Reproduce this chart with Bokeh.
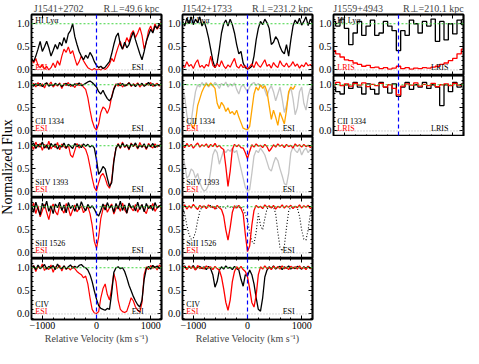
import numpy as np
from bokeh.plotting import figure
from bokeh.layouts import row, column
from bokeh.models import Range1d, LinearAxis, FixedTicker, PrintfTickFormatter, Span, Label
from bokeh.embed import file_html
from bokeh.resources import INLINE

# ------------------------------------------------------------------ data
VEL_START = -1200
ESI_STEP = 40
LRIS_STEP = 80

sightlines = ["J1541+2702", "J1542+1733", "J1559+4943"]
r_perp = ["49.6", "231.2", "210.1"]
ion_names = ["HI Lyα", "CII 1334", "SiIV 1393", "SiII 1526", "CIV"]
instruments = ["ESI", "ESI", "LRIS"]
x_ticks = [-1000, 0, 1000]
x_minor = [-1200, -800, -600, -400, -200, 200, 400, 600, 800, 1200]
y_ticks = [0.0, 0.5, 1.0]
y_minor = [-0.1, 0.1, 0.2, 0.3, 0.4, 0.6, 0.7, 0.8, 0.9, 1.1]

# J1541+2702 (ESI, 40 km/s pixels from -1200)
j1541_hi_black = [0.25, 0.18, 0.30, 0.45, 0.62, 0.40, 0.50, 0.62, 0.48, 0.30,
                  0.42, 0.55, 0.45, 0.60, 0.52, 0.70, 0.58, 0.78, 0.85, 1.00,
                  0.72, 0.55, 0.40, 0.30, 0.22, 0.32, 0.25, 0.38, 0.30, 0.18,
                  0.10, 0.05, 0.08, 0.03, 0.06, 0.12, 0.18, 0.35, 0.55, 0.72,
                  0.80, 0.55, 0.45, 0.60, 0.48, 0.55, 0.70, 0.82, 0.65, 0.50,
                  0.35, 0.22, 0.40, 0.62, 0.75, 0.88, 0.80, 0.95, 0.90, 1.00,
                  0.92]
j1541_hi_red = [0.22, 0.15, 0.25, 0.10, 0.05, 0.12, 0.02, 0.08, 0.00, 0.05,
                0.15, 0.05, 0.20, 0.10, 0.30, 0.45, 0.38, 0.50, 0.35, 0.42,
                0.25, 0.10, 0.18, 0.30, 0.20, 0.12, 0.05, 0.02, 0.00, 0.03,
                0.00, 0.02, 0.00, 0.04, 0.01, 0.05, 0.12, 0.25, 0.18, 0.35,
                0.50, 0.62, 0.45, 0.55, 0.70, 0.60, 0.78, 0.85, 0.70, 0.80,
                0.92, 0.75, 0.45, 0.60, 0.85, 0.95, 0.82, 1.00, 0.88, 0.95,
                1.05]
j1541_cii_black = [1.00, 0.97, 1.02, 0.98, 1.03, 0.96, 1.01, 1.04, 0.97, 1.00,
                   0.98, 1.03, 0.99, 1.02, 0.96, 1.00, 1.03, 0.98, 1.01, 0.97,
                   1.02, 0.99, 1.04, 0.98, 1.00, 1.03, 1.06, 1.08, 1.05, 1.00,
                   0.95, 0.85, 0.80, 0.88, 0.78, 0.70, 0.65, 0.72, 0.90, 1.00,
                   1.02, 0.98, 1.03, 0.97, 1.00, 1.04, 0.98, 1.01, 0.96, 1.02,
                   0.99, 1.03, 0.97, 1.00, 1.05, 0.98, 1.02, 0.97, 1.01, 0.99,
                   1.03]
j1541_cii_red = [0.98, 1.03, 0.95, 1.05, 0.97, 1.02, 0.93, 1.04, 0.99, 1.06,
                 0.95, 1.01, 0.97, 1.04, 0.92, 1.03, 0.98, 1.05, 0.96, 1.00,
                 0.94, 1.03, 0.98, 1.02, 0.95, 0.90, 0.72, 0.45, 0.22, 0.08,
                 0.02, 0.15, 0.40, 0.52, 0.48, 0.38, 0.50, 0.75, 0.92, 1.02,
                 0.97, 1.04, 0.95, 1.01, 0.98, 1.05, 0.96, 1.02, 0.99, 1.04,
                 0.95, 1.01, 0.97, 1.03, 0.99, 1.05, 0.96, 1.00, 1.03, 0.97,
                 1.02]
j1541_siiv_black = [1.00, 1.06, 0.94, 1.03, 0.97, 1.08, 0.95, 1.02, 0.92, 1.05,
                    0.98, 1.04, 0.93, 1.01, 0.97, 1.06, 0.95, 1.03, 0.99, 0.94,
                    1.05, 0.98, 1.02, 0.96, 1.04, 0.99, 1.03, 0.97, 1.01, 0.95,
                    0.70, 0.38, 0.45, 0.55, 0.50, 0.30, 0.12, 0.20, 0.65, 0.95,
                    1.03, 0.96, 1.05, 0.98, 1.02, 0.93, 1.04, 0.99, 1.06, 0.95,
                    1.01, 0.97, 1.04, 0.94, 1.02, 0.98, 1.05, 0.96, 1.01, 0.99,
                    1.03]
j1541_siiv_red = [1.02, 0.92, 1.08, 0.97, 1.05, 0.90, 1.03, 0.95, 1.10, 0.93,
                  1.01, 0.96, 1.07, 0.91, 1.04, 0.98, 0.94, 1.02, 0.80, 0.75,
                  0.90, 1.05, 0.95, 1.02, 0.97, 0.92, 0.78, 0.55, 0.30, 0.10,
                  0.02, 0.20, 0.35, 0.40, 0.30, 0.15, 0.08, 0.25, 0.70, 0.95,
                  1.05, 0.94, 1.08, 0.96, 1.02, 0.91, 1.06, 0.98, 1.03, 0.93,
                  1.07, 0.97, 1.01, 0.92, 1.05, 0.99, 0.95, 1.04, 0.97, 1.02,
                  1.00]
j1541_siii_black = [1.05, 0.88, 1.10, 0.95, 0.82, 1.08, 0.97, 1.12, 0.90, 1.02,
                    0.85, 1.06, 0.98, 1.10, 0.92, 1.04, 0.87, 1.09, 0.96, 1.03,
                    0.90, 1.07, 0.94, 1.11, 0.99, 0.91, 1.05, 0.97, 1.02, 0.95,
                    0.85, 0.80, 0.92, 1.06, 0.93, 1.09, 0.97, 1.03, 0.88, 1.07,
                    0.95, 1.12, 0.92, 1.04, 0.86, 1.08, 0.98, 1.02, 0.91, 1.10,
                    0.94, 1.05, 0.89, 1.07, 0.96, 1.03, 0.92, 1.09, 0.97, 1.01,
                    1.04]
j1541_siii_red = [0.95, 1.08, 0.85, 1.02, 0.78, 0.92, 1.05, 0.88, 0.72, 0.95,
                  1.06, 0.90, 0.82, 1.03, 0.94, 0.86, 1.07, 0.97, 0.80, 0.93,
                  1.04, 0.89, 0.96, 1.02, 0.87, 0.94, 1.00, 0.85, 0.60, 0.25,
                  0.10, 0.35, 0.75, 0.95, 1.04, 0.88, 0.98, 1.06, 0.84, 0.96,
                  1.02, 0.90, 1.08, 0.93, 0.86, 1.03, 0.97, 0.91, 1.05, 0.88,
                  0.99, 1.04, 0.92, 0.85, 1.02, 0.96, 1.07, 0.90, 0.98, 1.03,
                  0.95]
j1541_civ_black = [1.00, 1.04, 0.96, 1.06, 0.98, 1.02, 1.07, 0.97, 1.03, 0.99,
                   1.05, 0.96, 1.08, 1.00, 0.98, 1.04, 0.97, 1.02, 1.06, 0.99,
                   1.03, 1.00, 1.05, 1.07, 1.02, 1.00, 0.95, 0.85, 0.70, 0.50,
                   0.32, 0.18, 0.12, 0.10, 0.08, 0.12, 0.10, 0.45, 0.90, 1.00,
                   1.02, 0.98, 1.00, 0.92, 0.78, 0.62, 0.50, 0.38, 0.28, 0.20,
                   0.15, 0.30, 0.75, 0.98, 1.03, 0.97, 1.05, 1.00, 1.04, 0.98,
                   1.02]
j1541_civ_red = [0.97, 1.05, 0.92, 1.03, 0.98, 1.08, 0.94, 1.01, 0.96, 1.06,
                 0.90, 1.02, 0.99, 1.05, 0.93, 1.04, 0.97, 1.00, 0.95, 1.03,
                 0.98, 0.92, 0.88, 0.85, 0.78, 0.82, 0.65, 0.35, 0.10, 0.02,
                 0.01, 0.05, 0.35, 0.55, 0.65, 0.42, 0.30, 0.55, 0.88, 0.70,
                 0.30, 0.10, 0.05, 0.03, 0.06, 0.20, 0.35, 0.28, 0.15, 0.08,
                 0.04, 0.25, 0.85, 1.02, 0.96, 1.05, 0.99, 1.03, 0.95, 1.06,
                 1.00]

# J1542+1733 (ESI, 40 km/s pixels from -1200)
j1542_hi_black = [1.05, 0.95, 1.12, 1.00, 1.15, 0.98, 1.10, 1.02, 1.15, 0.95,
                  1.05, 0.90, 0.70, 0.45, 0.20, 0.05, 0.15, 0.45, 0.80, 1.00,
                  1.08, 0.95, 1.10, 0.98, 0.80, 0.55, 0.35, 0.40, 0.15, 0.05,
                  0.02, 0.04, 0.08, 0.30, 0.65, 0.90, 1.05, 0.98, 1.10, 1.02,
                  0.90, 0.55, 0.60, 0.72, 0.65, 0.50, 0.40, 0.35, 0.55, 0.30,
                  0.65, 0.95, 1.08, 1.00, 1.12, 0.97, 1.05, 1.15, 0.96, 1.10,
                  1.02]
j1542_hi_red = [0.10, 0.05, 0.18, 0.08, 0.12, 0.03, 0.15, 0.22, 0.06, 0.10,
                0.04, 0.12, 0.08, 0.30, 0.10, 0.05, 0.14, 0.07, 0.20, 0.09,
                0.03, 0.11, 0.06, 0.16, 0.25, 0.08, 0.04, 0.12, 0.05, 0.09,
                0.02, 0.07, 0.13, 0.05, 0.18, 0.10, 0.06, 0.14, 0.22, 0.08,
                0.12, 0.04, 0.16, 0.09, 0.05, 0.20, 0.11, 0.07, 0.15, 0.06,
                0.10, 0.18, 0.08, 0.13, 0.04, 0.11, 0.07, 0.16, 0.09, 0.12,
                0.06]
j1542_cii_gray = [0.95, 0.75, 0.35, 0.10, 0.20, 0.55, 0.85, 1.00, 0.95, 1.05,
                  0.98, 1.05, 0.95, 1.02, 0.97, 1.05, 1.00, 0.92, 1.03, 0.98,
                  1.06, 0.95, 1.02, 0.97, 1.04, 0.90, 0.80, 0.95, 1.00, 0.92,
                  0.85, 0.95, 1.02, 1.05, 0.98, 1.03, 0.96, 1.00, 0.88, 0.75,
                  0.90, 0.98, 0.85, 0.65, 0.80, 0.95, 0.70, 0.40, 0.55, 0.80,
                  0.95, 0.70, 0.35, 0.50, 0.85, 0.95, 0.60, 0.45, 0.75, 0.92,
                  0.98]
j1542_cii_orange_start = -1040
j1542_cii_orange = [0.15, 0.05, 0.20, 0.55, 0.70, 0.85, 0.95, 1.02, 0.97, 1.04,
                    0.98, 0.92, 0.60, 0.48, 0.62, 0.55, 0.42, 0.50, 0.38, 0.42,
                    0.35, 0.45, 0.30, 0.18, 0.06, 0.04, 0.03, 0.10, 0.45, 0.80,
                    0.95, 0.88, 1.00, 0.92, 0.98, 0.85, 0.55, 0.25, 0.45, 0.30,
                    0.12, 0.40, 0.28, 0.15, 0.45, 0.85, 0.95, 0.90, 0.98]
j1542_siiv_gray = [0.85, 0.60, 0.30, 0.35, 0.50, 0.45, 0.30, 0.40, 0.20, 0.08,
                   0.02, 0.05, 0.15, 0.45, 0.80, 0.92, 0.85, 0.60, 0.75, 0.90,
                   0.85, 0.92, 0.88, 0.95, 0.85, 0.90, 0.70, 0.50, 0.30, 0.10,
                   0.02, 0.05, 0.40, 0.78, 0.90, 0.85, 0.95, 0.88, 0.80, 0.65,
                   0.50, 0.45, 0.62, 0.75, 0.68, 0.50, 0.35, 0.18, 0.15, 0.40,
                   0.85, 0.98, 0.90, 0.85, 0.95, 0.80, 0.90, 0.95, 0.85, 0.92,
                   0.88]
j1542_siiv_red = [1.02, 0.96, 1.05, 0.98, 1.03, 0.95, 1.01, 1.06, 0.97, 1.02,
                  0.99, 1.04, 0.96, 1.03, 0.98, 1.05, 0.97, 1.01, 0.95, 0.92,
                  0.55, 0.12, 0.45, 0.92, 1.03, 0.98, 1.02, 0.96, 0.95, 0.85,
                  0.72, 0.88, 1.02, 0.97, 1.04, 0.99, 1.01, 0.96, 1.03, 0.98,
                  0.88, 0.94, 1.02, 0.97, 1.04, 0.99, 1.02, 0.96, 1.03, 0.98,
                  1.01, 0.95, 1.04, 0.99, 1.02, 0.97, 1.03, 0.98, 1.01, 0.96,
                  1.02]
j1542_siii_dotted = [1.00, 0.85, 0.60, 0.40, 0.30, 0.32, 0.45, 0.70, 0.90, 1.00,
                     1.02, 0.98, 1.00, 1.03, 0.97, 1.00, 0.95, 1.02, 0.98, 1.00,
                     0.97, 1.02, 0.99, 1.00, 0.96, 1.02, 0.98, 1.00, 0.95, 0.85,
                     0.70, 0.45, 0.25, 0.20, 0.45, 0.85, 0.60, 0.50, 0.75, 0.95,
                     1.00, 0.98, 1.00, 0.85, 0.45, 0.12, 0.04, 0.15, 0.55, 0.90,
                     1.00, 0.98, 1.02, 0.97, 0.80, 0.50, 0.30, 0.28, 0.50, 0.85,
                     1.00]
j1542_siii_red = [0.98, 1.04, 0.95, 1.02, 0.97, 1.05, 0.99, 0.94, 1.03, 0.98,
                  1.02, 0.96, 1.04, 0.99, 1.01, 0.95, 1.03, 0.98, 0.94, 0.80,
                  0.50, 0.28, 0.55, 0.88, 1.02, 0.97, 1.03, 0.96, 0.85, 0.40,
                  0.03, 0.15, 0.60, 0.92, 1.03, 0.98, 1.01, 0.96, 1.04, 0.99,
                  1.02, 0.97, 1.03, 0.95, 1.01, 0.98, 1.04, 0.97, 1.02, 0.99,
                  1.03, 0.96, 1.01, 0.98, 1.04, 0.97, 1.02, 0.99, 1.03, 0.96,
                  1.00]
j1542_civ_black = [1.00, 1.04, 0.97, 1.02, 0.99, 1.05, 0.96, 1.01, 1.03, 0.98,
                   1.02, 0.96, 1.03, 0.98, 0.85, 0.58, 0.70, 0.95, 1.02, 0.97,
                   1.04, 0.99, 1.01, 0.96, 1.03, 0.98, 0.95, 0.75, 0.60, 0.85,
                   0.82, 0.95, 0.85, 0.65, 0.35, 0.10, 0.06, 0.35, 0.80, 0.95,
                   1.02, 0.98, 1.04, 0.97, 1.01, 1.03, 0.96, 1.02, 0.99, 1.04,
                   0.97, 1.01, 0.98, 1.03, 1.00, 0.97, 1.02, 0.99, 1.03, 0.98,
                   1.01]
j1542_civ_red = [0.98, 1.03, 0.96, 1.04, 0.99, 1.02, 0.95, 1.05, 0.98, 1.01,
                 0.97, 1.04, 0.99, 1.02, 0.96, 1.03, 0.98, 0.95, 0.80, 0.55,
                 0.25, 0.08, 0.30, 0.70, 0.92, 1.02, 0.97, 1.03, 0.96, 0.92,
                 0.80, 0.55, 0.25, 0.15, 0.40, 0.85, 1.02, 0.97, 1.04, 0.98,
                 1.01, 0.96, 1.03, 0.99, 1.02, 0.97, 1.04, 0.98, 1.01, 0.96,
                 1.03, 0.99, 1.02, 0.97, 1.04, 0.98, 1.01, 0.96, 1.03, 0.99,
                 1.00]

# J1559+4943 (LRIS, 80 km/s bins from -1200)
j1559_hi_black = [1.05, 0.95, 1.10, 0.90, 0.55, 0.80, 1.05, 0.75, 0.95, 1.08,
                  0.75, 0.80, 1.05, 0.95, 0.85, 0.42, 0.85, 0.75, 1.08, 1.00,
                  0.80, 1.05, 0.95, 1.10, 0.62, 1.05, 0.65, 1.00, 0.78, 1.08,
                  0.98]
j1559_hi_red = [0.42, 0.35, 0.28, 0.22, 0.20, 0.15, 0.12, 0.08, 0.10, 0.05,
                0.06, 0.03, 0.05, 0.02, 0.04, 0.08, 0.03, 0.05, 0.02, 0.04,
                0.03, 0.05, 0.04, 0.06, 0.08, 0.12, 0.15, 0.20, 0.25, 0.35,
                0.45]
j1559_cii_black = [0.95, 0.85, 0.80, 1.00, 0.92, 1.05, 0.95, 0.80, 1.02, 0.90,
                   0.80, 1.05, 0.95, 0.82, 1.02, 0.75, 0.95, 1.05, 0.90, 1.00,
                   0.95, 1.05, 0.92, 1.00, 0.95, 0.55, 1.00, 0.85, 1.05, 0.95,
                   1.02]
j1559_cii_red = [1.00, 1.05, 0.98, 1.02, 0.97, 1.03, 0.99, 1.04, 0.96, 1.01,
                 0.98, 1.03, 0.95, 1.00, 0.92, 0.78, 0.97, 1.02, 0.99, 1.04,
                 0.97, 1.01, 0.98, 1.03, 0.96, 1.00, 1.02, 0.98, 1.03, 0.99,
                 1.01]

# ------------------------------------------------------------------ styling
FONT = "Liberation Serif"
FW, FH = 130, 61
LW = 13
LEFT = [17, 17, 17]
RIGHT = [3, 3, 2]
TOP_T = 14
BOTTOM_B = 28
RED = "#ff0000"
ORANGE = "#ffa500"
GRAY = "#c4c4c4"


def vel(vals, start=VEL_START, step=ESI_STEP):
    return [start + step * i for i in range(len(vals))]


def base_axis(ax):
    ax.axis_line_width = 1.5
    ax.axis_line_color = "black"
    ax.major_tick_in = 4
    ax.major_tick_out = 0
    ax.minor_tick_in = 2
    ax.minor_tick_out = 0
    ax.major_tick_line_color = "black"
    ax.minor_tick_line_color = "black"
    ax.major_label_text_font = FONT
    ax.major_label_text_color = "black"
    ax.major_label_standoff = 2


def bare_ticks(p, side, majors, minors):
    # tick marks without labels: two label-free axes stacked at the frame edge
    for pos, length in ((minors, 2), (majors, 4)):
        ax = LinearAxis(ticker=FixedTicker(ticks=[], minor_ticks=list(pos)))
        base_axis(ax)
        ax.minor_tick_in = length
        ax.major_label_standoff = 0
        p.add_layout(ax, side)


def make_panel(ci, ri, last):
    top = TOP_T if ri == 0 else 0
    show_x = last and ci < 2
    bottom = BOTTOM_B if show_x else 0
    p = figure(frame_width=FW, frame_height=FH,
               x_range=Range1d(-1200, 1200), y_range=Range1d(-0.12, 1.2),
               x_axis_type=None, y_axis_type=None,
               output_backend="svg", toolbar_location=None,
               min_border=0, min_border_left=LEFT[ci], min_border_right=RIGHT[ci],
               min_border_top=top, min_border_bottom=bottom,
               background_fill_color="white", border_fill_color="white",
               outline_line_color="black", outline_line_width=1.5)

    if show_x:
        xb = LinearAxis(ticker=FixedTicker(ticks=x_ticks, minor_ticks=x_minor))
        base_axis(xb)
        xb.major_label_text_font_size = "10px"
        xb.major_label_overrides = {-1000: "\u22121000", 0: "0", 1000: "1000"}
        xb.axis_label = "Relative Velocity (km s\u207b\u00b9)"
        xb.axis_label_text_font = FONT
        xb.axis_label_text_font_size = "10px"
        xb.axis_label_text_font_style = "normal"
        xb.axis_label_standoff = 1
        p.add_layout(xb, "below")
    else:
        bare_ticks(p, "below", x_ticks, x_minor)
    bare_ticks(p, "above", x_ticks, x_minor)

    yl = LinearAxis(ticker=FixedTicker(ticks=y_ticks, minor_ticks=y_minor),
                    formatter=PrintfTickFormatter(format="%.1f"))
    base_axis(yl)
    yl.major_label_text_font_size = "10px"
    p.add_layout(yl, "left")
    bare_ticks(p, "right", y_ticks, y_minor)

    if ri == 0:
        p.title.text = sightlines[ci] + "\u2003\u2003R\u22a5=" + r_perp[ci] + " kpc"
        p.title.align = "center"
        p.title.text_font = FONT
        p.title.text_font_size = "10px"
        p.title.text_font_style = "normal"
        p.title.standoff = 1
    return p


def add_refs(p):
    p.add_layout(Span(location=1.0, dimension="width", line_color="#3fd43f",
                      line_dash="2 2", line_width=1))
    p.add_layout(Span(location=0.0, dimension="width", line_color="#aaaaaa",
                      line_dash="1 2", line_width=1))
    p.add_layout(Span(location=0.0, dimension="height", line_color="#0000ff",
                      line_dash="4 3", line_width=1.2))


def add_labels(p, ri, ci, left_instr=True, right_instr=True):
    inst = instruments[ci]
    if ri == 0:
        p.add_layout(Label(x=-1130, y=1.07, text=ion_names[0], text_font=FONT,
                           text_font_size="8px", text_color="black",
                           text_baseline="middle"))
    else:
        p.add_layout(Label(x=-1130, y=0.2, text=ion_names[ri], text_font=FONT,
                           text_font_size="8px", text_color="black",
                           text_baseline="middle"))
    if left_instr:
        p.add_layout(Label(x=-1130, y=0.06, text=inst, text_font=FONT,
                           text_font_size="8px", text_color=RED,
                           text_baseline="middle"))
    if right_instr:
        p.add_layout(Label(x=760, y=0.06, text=inst, text_font=FONT,
                           text_font_size="8px", text_color="black",
                           text_align="center", text_baseline="middle"))


# ------------------------------------------------------------------ column 1
col1_data = [(j1541_hi_black, j1541_hi_red), (j1541_cii_black, j1541_cii_red),
             (j1541_siiv_black, j1541_siiv_red), (j1541_siii_black, j1541_siii_red),
             (j1541_civ_black, j1541_civ_red)]
col1 = []
for ri, (blk, red) in enumerate(col1_data):
    p = make_panel(0, ri, ri == 4)
    p.line(vel(red), red, line_color=RED, line_width=1.2)
    p.line(vel(blk), blk, line_color="black", line_width=1.3)
    add_refs(p)
    add_labels(p, ri, 0)
    col1.append(p)

# ------------------------------------------------------------------ column 2
col2 = []
p = make_panel(1, 0, False)
p.line(vel(j1542_hi_black), j1542_hi_black, line_color="black", line_width=1.3)
p.line(vel(j1542_hi_red), j1542_hi_red, line_color=RED, line_width=1.2)
add_refs(p)
add_labels(p, 0, 1, left_instr=False, right_instr=False)
col2.append(p)

p = make_panel(1, 1, False)
p.line(vel(j1542_cii_gray), j1542_cii_gray, line_color=GRAY, line_width=1.3)
p.line(vel(j1542_cii_orange, start=j1542_cii_orange_start), j1542_cii_orange,
       line_color=ORANGE, line_width=1.3)
add_refs(p)
add_labels(p, 1, 1)
col2.append(p)

p = make_panel(1, 2, False)
p.line(vel(j1542_siiv_gray), j1542_siiv_gray, line_color=GRAY, line_width=1.3)
p.line(vel(j1542_siiv_red), j1542_siiv_red, line_color=RED, line_width=1.3)
add_refs(p)
add_labels(p, 2, 1)
col2.append(p)

p = make_panel(1, 3, False)
p.line(vel(j1542_siii_dotted), j1542_siii_dotted, line_color="black",
       line_dash="1 2", line_width=1.1)
p.line(vel(j1542_siii_red), j1542_siii_red, line_color=RED, line_width=1.3)
add_refs(p)
add_labels(p, 3, 1)
col2.append(p)

p = make_panel(1, 4, True)
p.line(vel(j1542_civ_black), j1542_civ_black, line_color="black", line_width=1.3)
p.line(vel(j1542_civ_red), j1542_civ_red, line_color=RED, line_width=1.3)
add_refs(p)
add_labels(p, 4, 1)
col2.append(p)

# ------------------------------------------------------------------ column 3
col3 = []
for ri, (blk, red) in enumerate([(j1559_hi_black, j1559_hi_red),
                                 (j1559_cii_black, j1559_cii_red)]):
    p = make_panel(2, ri, False)
    p.step(vel(blk, step=LRIS_STEP), blk, mode="center", line_color="black", line_width=1.3)
    p.step(vel(red, step=LRIS_STEP), red, mode="center", line_color=RED, line_width=1.3)
    add_refs(p)
    add_labels(p, ri, 2)
    col3.append(p)

# ------------------------------------------------------------------ y-axis title strip
col_height = TOP_T + 5 * FH + BOTTOM_B
ylab = figure(width=LW, height=col_height, x_range=Range1d(0, LW), y_range=Range1d(0, col_height),
              x_axis_type=None, y_axis_type=None, output_backend="svg",
              toolbar_location=None, min_border=0, outline_line_color=None,
              background_fill_color="white", border_fill_color="white")
ylab.add_layout(Label(x=LW / 2, y=col_height - (TOP_T + 2.5 * FH), text="Normalized Flux",
                      angle=np.pi / 2, text_align="center", text_baseline="middle",
                      text_font=FONT, text_font_size="14px", text_color="black"))

layout = row(ylab, column(*col1), column(*col2), column(*col3))
open("out.html", "w").write(file_html(layout, INLINE))
